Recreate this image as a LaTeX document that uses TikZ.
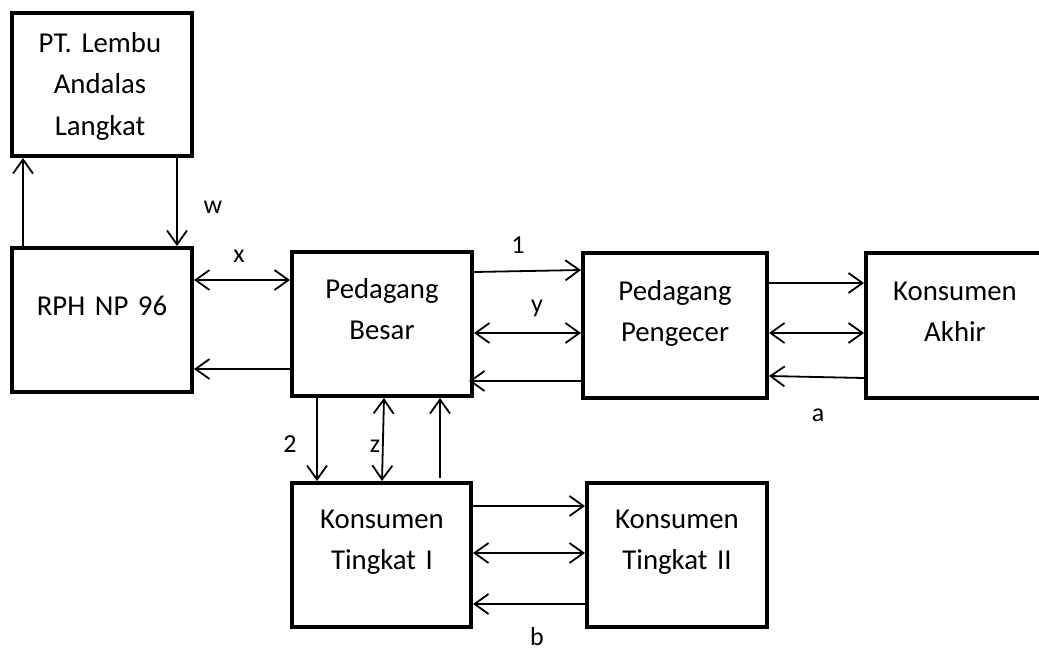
\documentclass[tikz,border=0pt]{standalone}
\usepackage{fontspec}
\setmainfont{Carlito}[WordSpace=0.7]
\usetikzlibrary{arrows.meta}
\begin{document}
\frenchspacing
\begin{tikzpicture}[x=1pt,y=-1pt,
  box/.style={draw, rectangle, line width=4pt, inner sep=0pt},
  boxtext/.style={anchor=base, text width=170pt, align=center, inner sep=0pt,
    font=\fontsize{28.8}{41.5}\selectfont},
  flow/.style={line width=1.8pt, -{Straight Barb[length=14pt,width=20pt]}},
  both/.style={line width=1.8pt, {Straight Barb[length=14pt,width=20pt]}-{Straight Barb[length=14pt,width=20pt]}},
  lbl/.style={anchor=base, inner sep=0pt, font=\fontsize{26}{30}\selectfont}]

\useasboundingbox[fill=white] (0,0) rectangle (1039,651);

% boxes
\node[box, minimum width=180pt, minimum height=143pt] (pt)  at (102,84.5)  {};
\node[box, minimum width=180pt, minimum height=144pt] (rph) at (102,320)   {};
\node[box, minimum width=180pt, minimum height=144pt] (pb)  at (382,324)   {};
\node[box, minimum width=184pt, minimum height=145pt] (pp)  at (675,325.5) {};
\node[box, minimum width=179pt, minimum height=144pt] (kt1) at (381.5,555) {};
\node[box, minimum width=180pt, minimum height=144pt] (kt2) at (677,555)   {};
% Konsumen Akhir runs on past the right margin: only three sides show
\node[inner sep=0pt, outer sep=2pt, minimum width=186pt, minimum height=145pt] (ka) at (959,325.5) {};
\draw[line width=4pt] ([shift={(-2pt,-2pt)}]ka.north east) -- ([shift={(2pt,-2pt)}]ka.north west)
  -- ([shift={(2pt,2pt)}]ka.south west) -- ([shift={(-2pt,2pt)}]ka.south east);

% box texts
\node[boxtext] (ptt)  at (100,52)  {PT. Lembu\\Andalas\\Langkat};
\node[boxtext] (rpht) at (102,315) {RPH NP 96};
\node[boxtext] (pbt)  at (382,298) {Pedagang\\Besar};
\node[boxtext] (ppt)  at (675,300) {Pedagang\\Pengecer};
\node[boxtext] (kat)  at (955,300) {Konsumen\\Akhir};
\node[boxtext] (kt1t) at (382,528) {Konsumen\\Tingkat I};
\node[boxtext] (kt2t) at (677,528) {Konsumen\\Tingkat II};

% RPH <-> PT. Lembu Andalas Langkat
\draw[flow] (rph.north -| 23,0) -- (pt.south -| 23,0);
\draw[flow] (pt.south -| 177,0) -- (rph.north -| 177,0);

% RPH <-> Pedagang Besar
\draw[both] (rph.east |- 0,280) -- (pb.west |- 0,280);
\draw[flow] (pb.west |- 0,369) -- (rph.east |- 0,369);

% Pedagang Besar <-> Pedagang Pengecer
\draw[flow] (pb.east |- 0,272) -- (pp.west |- 0,270);
\draw[both] (pb.east |- 0,333) -- (pp.west |- 0,333);
\draw[flow, shorten >=-5pt] (pp.west |- 0,381) -- (pb.east |- 0,381);

% Pedagang Pengecer <-> Konsumen Akhir
\draw[flow] (pp.east |- 0,283) -- (ka.west |- 0,283);
\draw[both] (pp.east |- 0,333) -- (ka.west |- 0,333);
\draw[flow] (ka.west |- 0,378) -- (pp.east |- 0,376);

% Pedagang Besar <-> Konsumen Tingkat I
\draw[flow] (pb.south -| 317,0) -- (kt1.north -| 317,0);
\draw[both] (pb.south -| 384,0) -- (kt1.north -| 382,0);
\draw[flow, shorten <=3pt] (kt1.north -| 440,0) -- (pb.south -| 440,0);

% Konsumen Tingkat I <-> Konsumen Tingkat II
\draw[flow] (kt1.east |- 0,506) -- (kt2.west |- 0,506);
\draw[both] (kt1.east |- 0,553) -- (kt2.west |- 0,553);
\draw[flow] (kt2.west |- 0,604) -- (kt1.east |- 0,604);

% flow labels
\node[lbl] (lw) at (213,213) {w};
\node[lbl] (lx) at (239,262) {x};
\node[lbl] (l1) at (518,253) {1};
\node[lbl] (ly) at (537,312) {y};
\node[lbl] (la) at (818,421) {a};
\node[lbl] (l2) at (290,452) {2};
\node[lbl] (lz) at (375,452) {z};
\node[lbl] (lb) at (537,645) {b};
\end{tikzpicture}
\end{document}
